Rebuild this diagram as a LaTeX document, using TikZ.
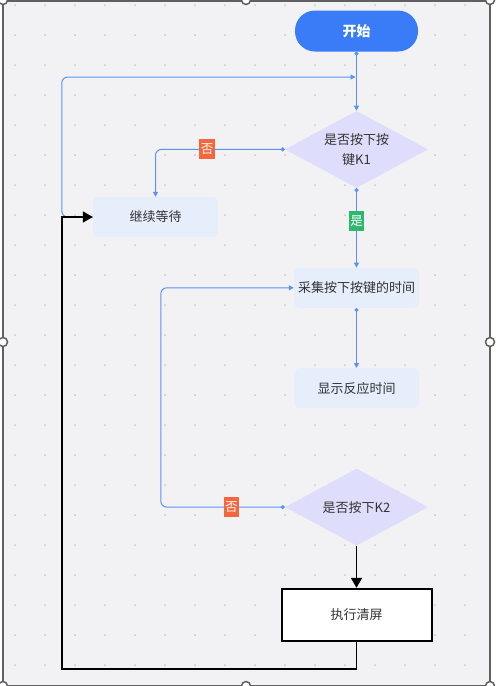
\documentclass[tikz,border=0pt]{standalone}
\usepackage{fontspec}
\newfontfamily\cjk{Noto Sans CJK SC}
\usepackage{tikz}
\usetikzlibrary{arrows.meta,positioning,shapes.geometric}
\definecolor{canvas}{HTML}{F2F2F5}
\definecolor{framegray}{HTML}{606060}
\definecolor{griddot}{HTML}{C8C8CC}
\definecolor{flowblue}{HTML}{5A92F6}
\definecolor{startblue}{HTML}{3A7CF7}
\definecolor{boxblue}{HTML}{E6EDFB}
\definecolor{lavender}{HTML}{DEDEFC}
\definecolor{noorange}{HTML}{F4663B}
\definecolor{yesgreen}{HTML}{2DB86E}
\definecolor{ink}{HTML}{333333}
\tikzset{
  startbox/.style={rounded corners=20pt,fill=startblue,text=white,minimum width=123pt,
                   minimum height=41pt,font=\cjk\fontsize{14pt}{16pt}\selectfont\bfseries},
  box/.style     ={rounded corners=6pt,fill=boxblue,text=ink,minimum width=125pt,
                   minimum height=40pt,inner sep=0pt,font=\cjk\fontsize{13pt}{16pt}\selectfont},
  decision/.style={diamond,aspect=1.85,fill=lavender,text=ink,minimum width=143pt,
                   minimum height=77pt,inner sep=0pt,align=center,
                   font=\cjk\fontsize{13pt}{20pt}\selectfont},
  clearbox/.style={draw=black,line width=2pt,fill=white,text=ink,minimum width=150pt,
                   minimum height=52pt,font=\cjk\fontsize{13pt}{16pt}\selectfont},
  nolabel/.style ={sharp corners,fill=noorange,text=white,inner xsep=1.5pt,inner ysep=0pt,
                   minimum height=20pt,font=\cjk\fontsize{12.5pt}{14pt}\selectfont},
  yeslabel/.style={nolabel,fill=yesgreen},
  flow/.style    ={{Circle[length=4pt]}-{Triangle[length=5pt,width=5pt]},draw=flowblue,line width=1pt},
  loopflow/.style={-{Triangle[length=5pt,width=5pt]},draw=flowblue,line width=1pt},
  hardflow/.style={-{Triangle[length=10pt,width=11pt]},draw=black,line width=1.8pt}
}
\begin{document}
\begin{tikzpicture}[x=1pt,y=-1pt]
    \useasboundingbox (0,0) rectangle (497,686);
    % canvas, dotted grid and selection frame
    \fill[white] (0,0) rectangle (497,686);
    \fill[canvas] (3,0) rectangle (490,686);
    \foreach \x in {15,45,...,465}
      \foreach \y in {5,35,...,665}
        \fill[griddot] (\x,\y) circle (1pt);
    \draw[framegray,line width=1.5pt] (3,0.75) rectangle (490,685.25);
    \foreach \p in {(3,0),(246,0),(490,0),(3,342),(490,342),(3,686),(246,686),(490,686)}
      \filldraw[fill=white,draw=framegray,line width=1.5pt] \p circle (4.5pt);
    % flow
    \node[startbox] (start) at (356.5,31) {开始};
    \node[decision,below=59pt of start] (k1) {是否按下按\\键K1};
    \node[box,below=79.5pt of k1] (cap) {采集按下按键的时间};
    \node[box,below=60pt of cap] (show) {显示反应时间};
    \node[decision,below=60pt of show] (k2) {是否按下K2};
    \node[clearbox,below=42pt of k2] (clear) {执行清屏};
    \node[box] (wait) at (155.5,217) {继续等待};
    \coordinate (loopin) at (355.5,77);
    \coordinate (back) at (62,669);
    \draw[flow] (start) -- (k1);
    \draw[flow,rounded corners=6pt] (k1.west) -| node[nolabel,pos=0.3]{否} (wait.north);
    \draw[flow] (k1) -- node[yeslabel,pos=0.41]{是} (cap);
    \draw[flow] (cap) -- (show);
    \draw[flow,rounded corners=6pt] (k2.west) -- node[nolabel,pos=0.43]{否} ++(-124,0) |- (cap.west);
    \draw[loopflow,rounded corners=6pt] (wait.west) -- ++(-31,0) |- (loopin);
    \draw[hardflow] (k2) -- (clear);
    \draw[hardflow] (clear.south) |- (back) |- (wait.west);
\end{tikzpicture}
\end{document}
